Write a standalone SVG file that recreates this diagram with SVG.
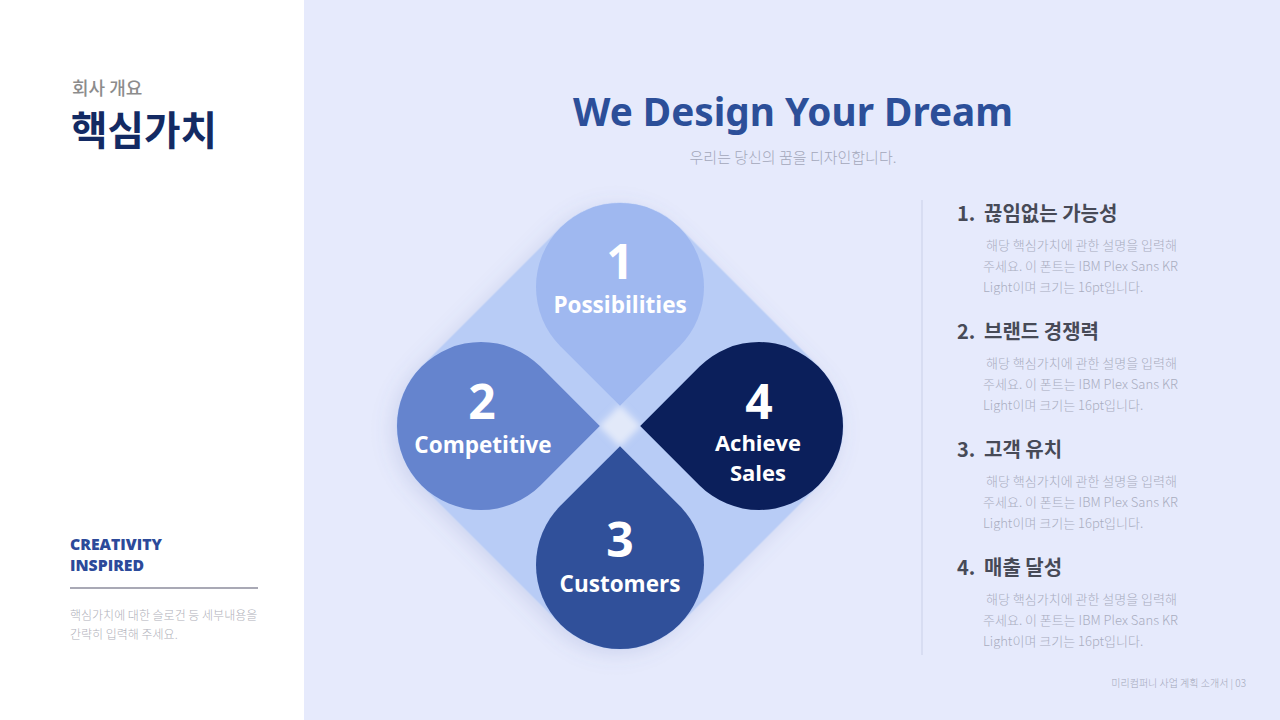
<svg xmlns="http://www.w3.org/2000/svg" width="1280" height="720" viewBox="0 0 1280 720">
<defs>
<style>
.kr{font-family:"Noto Sans CJK KR","Noto Sans",sans-serif}
.en{font-family:"Open Sans","Noto Sans",sans-serif;font-weight:700;fill:#ffffff;text-anchor:middle}
.num{font-size:48px}
.lbl{font-size:22.5px}
.ttl{font-size:20px;font-weight:700;fill:#474a57}
.desc{font-size:13px;font-weight:300;fill:#a9adbf}
</style>
<filter id="sh" x="-20%" y="-20%" width="140%" height="140%">
<feDropShadow dx="0" dy="6" stdDeviation="10" flood-color="#5a6fb0" flood-opacity="0.18"/>
</filter>
<filter id="glow" x="-100%" y="-100%" width="300%" height="300%">
<feGaussianBlur stdDeviation="3"/>
</filter>
</defs>
<rect x="0" y="0" width="1280" height="720" fill="#e6eafc"/>
<rect x="0" y="0" width="304" height="720" fill="#ffffff"/>

<g id="header-left">
<text x="72" y="95" class="kr" font-size="18" font-weight="500" fill="#8c8c8c">회사 개요</text>
<text x="71" y="145" class="kr" font-size="40" font-weight="700" fill="#132a63" textLength="146" lengthAdjust="spacingAndGlyphs">핵심가치</text>
</g>

<g id="slogan">
<text x="70" y="550" font-family="'Open Sans',sans-serif" font-weight="800" font-size="16" fill="#2c4a9a" textLength="92" lengthAdjust="spacingAndGlyphs">CREATIVITY</text>
<text x="70" y="571" font-family="'Open Sans',sans-serif" font-weight="800" font-size="16" fill="#2c4a9a" textLength="74" lengthAdjust="spacingAndGlyphs">INSPIRED</text>
<line x1="70" y1="588" x2="258" y2="588" stroke="#a9a9b5" stroke-width="2"/>
<text x="70" y="620" class="kr" font-size="12" font-weight="300" fill="#b0b1ba">핵심가치에 대한 슬로건 등 세부내용을</text>
<text x="70" y="639" class="kr" font-size="12" font-weight="300" fill="#b0b1ba">간략히 입력해 주세요.</text>
</g>

<g id="title">
<text x="793" y="126" font-family="'Noto Sans','Open Sans',sans-serif" font-weight="700" font-size="40" fill="#2c4f99" text-anchor="middle" textLength="440" lengthAdjust="spacingAndGlyphs">We Design Your Dream</text>
<text x="793" y="163" class="kr" font-size="15" font-weight="300" fill="#a3a7ba" text-anchor="middle">우리는 당신의 꿈을 디자인합니다.</text>
</g>

<g id="diamond">
<rect x="437.5" y="243.5" width="365" height="365" rx="84" fill="#b8ccf6" transform="rotate(45 620 426)" filter="url(#sh)"/>
<path d="M620,405 L641,426 L620,447 L599,426 Z" fill="#e2e9f9" filter="url(#glow)"/>
</g>

<g id="node-1">
<path d="M620,405.8 L679.4,346.4 A84,84 0 1 0 560.6,346.4 Z" fill="#9fb8f0"/>
<text x="620" y="279" class="en num">1</text>
<text x="620" y="313" class="en lbl">Possibilities</text>
</g>
<g id="node-2">
<path d="M599.8,426 L540.4,366.6 A84,84 0 1 0 540.4,485.4 Z" fill="#6584ce"/>
<text x="482" y="419" class="en num">2</text>
<text x="483" y="453" class="en lbl">Competitive</text>
</g>
<g id="node-3">
<path d="M620,446.2 L560.6,505.6 A84,84 0 1 0 679.4,505.6 Z" fill="#30509a"/>
<text x="620" y="557" class="en num">3</text>
<text x="620" y="592" class="en lbl">Customers</text>
</g>
<g id="node-4">
<path d="M640.2,426 L699.6,485.4 A84,84 0 1 0 699.6,366.6 Z" fill="#0b1f5b"/>
<text x="759" y="419" class="en num">4</text>
<text x="758" y="451" class="en" font-size="22">Achieve</text>
<text x="758" y="481" class="en" font-size="22">Sales</text>
</g>

<g id="connectors"></g>

<line x1="922" y1="200" x2="922" y2="655" stroke="#d3d9ef" stroke-width="1.5"/>

<g id="item-1">
<text x="957" y="221" class="kr ttl">1.</text>
<text x="984" y="221" class="kr ttl">끊임없는 가능성</text>
<text x="986" y="250" class="kr desc">해당 핵심가치에 관한 설명을 입력해</text>
<text x="983" y="271" class="kr desc">주세요. 이 폰트는 IBM Plex Sans KR</text>
<text x="983" y="292" class="kr desc">Light이며 크기는 16pt입니다.</text>
</g>
<g id="item-2">
<text x="957" y="339" class="kr ttl">2.</text>
<text x="984" y="339" class="kr ttl">브랜드 경쟁력</text>
<text x="986" y="368" class="kr desc">해당 핵심가치에 관한 설명을 입력해</text>
<text x="983" y="389" class="kr desc">주세요. 이 폰트는 IBM Plex Sans KR</text>
<text x="983" y="410" class="kr desc">Light이며 크기는 16pt입니다.</text>
</g>
<g id="item-3">
<text x="957" y="457" class="kr ttl">3.</text>
<text x="984" y="457" class="kr ttl">고객 유치</text>
<text x="986" y="486" class="kr desc">해당 핵심가치에 관한 설명을 입력해</text>
<text x="983" y="507" class="kr desc">주세요. 이 폰트는 IBM Plex Sans KR</text>
<text x="983" y="528" class="kr desc">Light이며 크기는 16pt입니다.</text>
</g>
<g id="item-4">
<text x="957" y="575" class="kr ttl">4.</text>
<text x="984" y="575" class="kr ttl">매출 달성</text>
<text x="986" y="604" class="kr desc">해당 핵심가치에 관한 설명을 입력해</text>
<text x="983" y="625" class="kr desc">주세요. 이 폰트는 IBM Plex Sans KR</text>
<text x="983" y="646" class="kr desc">Light이며 크기는 16pt입니다.</text>
</g>

<text x="1246" y="687" class="kr" font-size="10" font-weight="300" fill="#a3a7ba" text-anchor="end">미리컴퍼니 사업 계획 소개서 | 03</text>
</svg>
